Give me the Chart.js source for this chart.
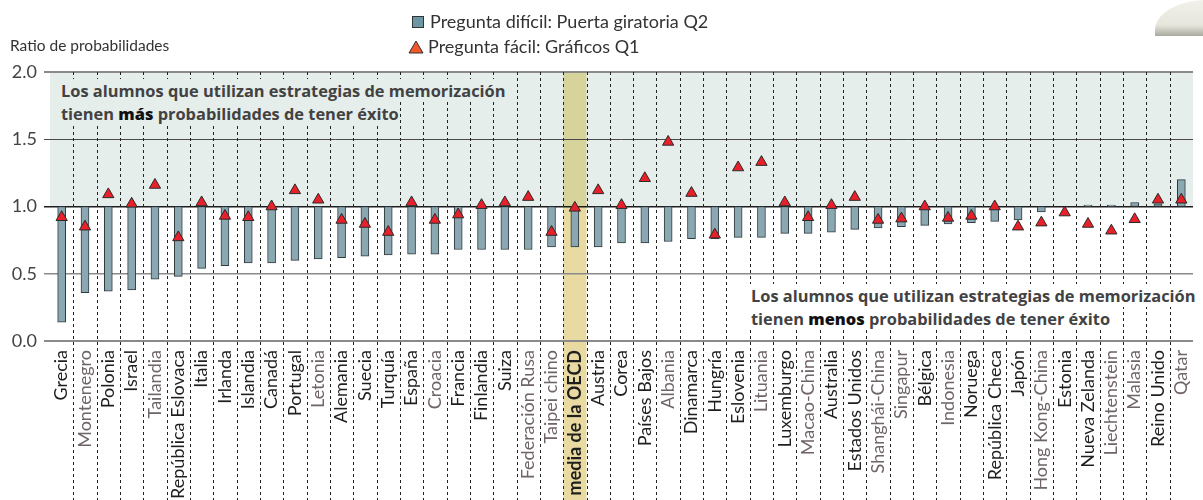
<!DOCTYPE html>
<html lang="es">
<head>
    <meta charset="UTF-8">
    <title>Ratio de probabilidades</title>
    <style>
        html, body { margin: 0; padding: 0; background: #fff; overflow: hidden; }
        body { font-family: Lato, "Open Sans", sans-serif; color: #333; }
        .wrap { position: relative; width: 1212px; height: 500px; }
        canvas { display: block; }
        .ytitle { position: absolute; left: 10px; top: 36px; font-size: 15.5px; color: #333; }
        .legend { position: absolute; left: 408px; top: 9px; font-size: 18px; color: #333; line-height: 25px; }
        .legend .item { display: flex; align-items: center; }
        .legend .sq { width: 10px; height: 10px; background: #6b97a4; border: 1px solid #333; margin: 0 6px 0 4px; }
        .legend svg { margin: 0 4px 0 0; }
        .note { position: absolute; font-family: "Open Sans", Lato, sans-serif; font-size: 16.4px; font-weight: bold; color: #424242; line-height: 23px; }
        .note span { padding: 0 1px; }
        .note b { font-weight: 800; color: #111; }
        .note.up span { background: #e6eeeb; }
        .note.down span { background: #fff; }
        .curl { position: absolute; left: 1155px; top: 0; width: 52px; height: 36px;
                border-top-left-radius: 52px 30px;
                background: linear-gradient(to bottom, #f1f1ea 0%, #e6e6dd 70%, #a9a99e 100%); }
    </style>
    <script src="https://cdn.jsdelivr.net/npm/chart.js"></script>
</head>
<body>
<div class="wrap">
    <canvas id="chart" width="1212" height="500"></canvas>
    <div class="curl"></div>
    <div class="ytitle">Ratio de probabilidades</div>
    <div class="legend">
        <div class="item"><span class="sq"></span>Pregunta difícil: Puerta giratoria Q2</div>
        <div class="item"><svg width="16" height="14"><polygon points="8,1 15,13 1,13" fill="#f0582a" stroke="#333" stroke-width="1"/></svg>Pregunta fácil: Gráficos Q1</div>
    </div>
    <div class="note up" style="left:60px; top:79px;">
        <span>Los alumnos que utilizan estrategias de memorización</span><br>
        <span>tienen <b>más</b> probabilidades de tener éxito</span>
    </div>
    <div class="note down" style="left:750px; top:284px;">
        <span>Los alumnos que utilizan estrategias de memorización</span><br>
        <span>tienen <b>menos</b> probabilidades de tener éxito</span>
    </div>
</div>

<script>
    // countries / economies, in the order shown
    const categories = [
        'Grecia', 'Montenegro', 'Polonia', 'Israel', 'Tailandia', 'República Eslovaca',
        'Italia', 'Irlanda', 'Islandia', 'Canadá', 'Portugal', 'Letonia', 'Alemania',
        'Suecia', 'Turquía', 'España', 'Croacia', 'Francia', 'Finlandia', 'Suiza',
        'Federación Rusa', 'Taipei chino', 'media de la OECD', 'Austria', 'Corea',
        'Países Bajos', 'Albania', 'Dinamarca', 'Hungría', 'Eslovenia', 'Lituania',
        'Luxemburgo', 'Macao-China', 'Australia', 'Estados Unidos', 'Shanghái-China',
        'Singapur', 'Bélgica', 'Indonesia', 'Noruega', 'República Checa', 'Japón',
        'Hong Kong-China', 'Estonia', 'Nueva Zelanda', 'Liechtenstein', 'Malasia',
        'Reino Unido', 'Qatar'
    ];

    // partner economies (labels printed in grey)
    const partners = [
        'Montenegro', 'Tailandia', 'Letonia', 'Croacia', 'Federación Rusa', 'Taipei chino',
        'Albania', 'Lituania', 'Macao-China', 'Shanghái-China', 'Singapur', 'Indonesia',
        'Hong Kong-China', 'Liechtenstein', 'Malasia', 'Qatar'
    ];

    const averageLabel = 'media de la OECD';

    // odds ratio, difficult question (Puerta giratoria Q2)
    const q2Values = [
        0.14, 0.36, 0.37, 0.38, 0.46, 0.48, 0.54, 0.56, 0.58, 0.58, 0.60, 0.61, 0.62,
        0.63, 0.64, 0.645, 0.645, 0.68, 0.68, 0.68, 0.68, 0.70, 0.70, 0.70, 0.73,
        0.73, 0.74, 0.76, 0.76, 0.77, 0.77, 0.80, 0.80, 0.81, 0.83, 0.84, 0.85, 0.86,
        0.87, 0.88, 0.89, 0.90, 0.96, 1.00, 1.01, 1.01, 1.03, 1.02, 1.20
    ];

    // odds ratio, easy question (Gráficos Q1)
    const q1Values = [
        0.92, 0.85, 1.09, 1.02, 1.16, 0.77, 1.03, 0.93, 0.92, 1.00, 1.12, 1.05, 0.90,
        0.87, 0.81, 1.03, 0.90, 0.94, 1.01, 1.03, 1.07, 0.81, 0.99, 1.12, 1.01,
        1.21, 1.48, 1.10, 0.79, 1.29, 1.33, 1.03, 0.92, 1.01, 1.07, 0.90, 0.91, 1.00,
        0.915, 0.93, 1.00, 0.85, 0.88, 0.955, 0.87, 0.82, 0.905, 1.05, 1.05
    ];

    const yTicks = [0, 0.5, 1, 1.5, 2];

    // y grid line look, per tick value
    const gridColor = { 0: '#8a8a8a', 0.5: '#8a8a8a', 1: '#1e1e1e', 1.5: '#4a4a4a', 2: '#8a8a8a' };
    const gridWidth = { 0: 2, 0.5: 1.5, 1: 1.5, 1.5: 1, 2: 2 };

    // shading above 1.0 and the OECD average column
    const backdrop = {
        id: 'backdrop',
        beforeDraw(chart) {
            const { ctx, chartArea: a, scales: { x, y } } = chart;
            const y1 = y.getPixelForValue(1);
            const y2 = y.getPixelForValue(2);
            ctx.save();
            ctx.fillStyle = '#e6eeeb';
            ctx.fillRect(a.left, y2, a.right - a.left, y1 - y2);

            const step = x.getPixelForValue(1) - x.getPixelForValue(0);
            const cx = x.getPixelForValue(categories.indexOf(averageLabel));
            ctx.fillStyle = '#d6d49b';
            ctx.fillRect(cx - step / 2, y2, step, y1 - y2);
            ctx.fillStyle = '#e8daa0';
            ctx.fillRect(cx - step / 2, y1, step, chart.height - y1);
            ctx.restore();
        },
        beforeDatasetsDraw(chart) {
            // dashed separators between categories, running down through the labels
            const { ctx, chartArea: a, scales: { x } } = chart;
            ctx.save();
            ctx.strokeStyle = '#222';
            ctx.lineWidth = 1;
            ctx.setLineDash([3, 3]);
            for (let i = 1; i < categories.length; i++) {
                const px = Math.round((x.getPixelForValue(i - 1) + x.getPixelForValue(i)) / 2) + 0.5;
                ctx.beginPath();
                ctx.moveTo(px, a.top);
                ctx.lineTo(px, chart.height);
                ctx.stroke();
            }
            ctx.restore();
        }
    };

    new Chart(document.getElementById('chart'), {
        type: 'bar',
        data: {
            labels: categories,
            datasets: [
                {
                    type: 'line',
                    label: 'Pregunta fácil: Gráficos Q1',
                    data: q1Values,
                    showLine: false,
                    pointStyle: 'triangle',
                    pointRadius: 6.5,
                    pointHoverRadius: 6.5,
                    pointBackgroundColor: '#e8202a',
                    pointBorderColor: '#2a2a2a',
                    pointBorderWidth: 1,
                    order: 0
                },
                {
                    label: 'Pregunta difícil: Puerta giratoria Q2',
                    data: q2Values.map(v => [Math.min(v, 1), Math.max(v, 1)]),
                    backgroundColor: '#8ba8b2',
                    borderColor: '#2f3a3e',
                    borderWidth: 1,
                    borderSkipped: false,
                    barThickness: 8,
                    order: 1
                }
            ]
        },
        options: {
            responsive: false,
            animation: false,
            events: [],
            layout: { padding: { top: 72, right: 2, left: 0, bottom: 0 } },
            plugins: {
                legend: { display: false },
                tooltip: { enabled: false }
            },
            scales: {
                x: {
                    offset: true,
                    grid: { display: false, drawTicks: false },
                    border: { display: false },
                    afterFit(scale) { scale.height = 159; },
                    ticks: {
                        autoSkip: false,
                        maxRotation: 90,
                        minRotation: 90,
                        padding: 9,
                        color: ctx => partners.includes(categories[ctx.index]) ? '#6f6469' : '#1e1e1e',
                        font: ctx => ({
                            family: 'Lato',
                            size: 18,
                            weight: categories[ctx.index] === averageLabel ? 'bold' : 'normal'
                        })
                    }
                },
                y: {
                    min: 0,
                    max: 2,
                    afterFit(scale) { scale.width = 50; },
                    afterBuildTicks(scale) { scale.ticks = yTicks.map(v => ({ value: v })); },
                    border: { display: false },
                    grid: {
                        color: ctx => gridColor[ctx.tick.value] || '#888',
                        lineWidth: ctx => gridWidth[ctx.tick.value] || 1,
                        tickLength: 6
                    },
                    ticks: {
                        padding: 7,
                        color: '#444',
                        font: { family: 'Lato', size: 18 },
                        callback: v => Number(v).toFixed(1)
                    }
                }
            }
        },
        plugins: [backdrop]
    });
</script>
</body>
</html>
